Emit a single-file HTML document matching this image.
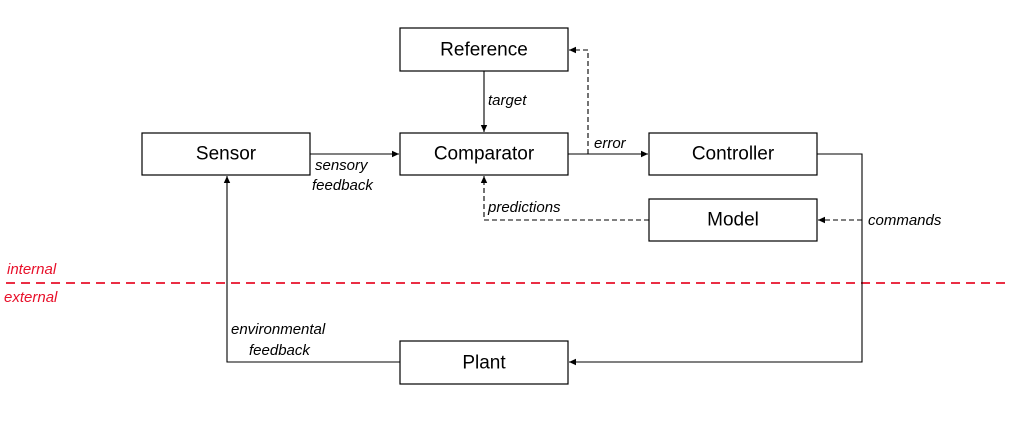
<!DOCTYPE html>
<html><head><style>
html,body{margin:0;padding:0;background:#fff;}
svg{display:block;}
.b{fill:#fff;stroke:#000;stroke-width:1.2;}
.t{font-family:"Liberation Sans",sans-serif;font-size:19px;text-anchor:middle;dominant-baseline:central;}
.l{font-family:"Liberation Sans",sans-serif;font-size:15px;font-style:italic;}
</style></head><body>
<svg width="1010" height="426" viewBox="0 0 1010 426">
<defs><marker id="a" markerWidth="8" markerHeight="8" refX="7" refY="4" orient="auto" markerUnits="userSpaceOnUse"><path d="M0,0.8 L7,4 L0,7.2 z" fill="#000"/></marker></defs>
<line x1="6" y1="283" x2="1005" y2="283" stroke="#e8102a" stroke-width="1.8" stroke-dasharray="9,6"/>
<text class="l" x="7" y="274" fill="#e8102a">internal</text>
<text class="l" x="4" y="302" fill="#e8102a">external</text>
<g stroke="#000" stroke-width="1.1" fill="none">
<line x1="484" y1="71" x2="484" y2="132" marker-end="url(#a)"/>
<line x1="310" y1="154" x2="399" y2="154" marker-end="url(#a)"/>
<line x1="568" y1="154" x2="648" y2="154" marker-end="url(#a)"/>
<polyline points="817,154 862,154 862,362 569,362" marker-end="url(#a)"/>
<polyline points="400,362 227,362 227,176" marker-end="url(#a)"/>
<polyline points="588,154 588,50 569,50" stroke-dasharray="5,3" marker-end="url(#a)"/>
<polyline points="649,220 484,220 484,176" stroke-dasharray="5,3" marker-end="url(#a)"/>
<line x1="862" y1="220" x2="818" y2="220" stroke-dasharray="5,3" marker-end="url(#a)"/>
</g>
<rect class="b" x="400" y="28" width="168" height="43"/><text class="t" x="484" y="50">Reference</text>
<rect class="b" x="400" y="133" width="168" height="42"/><text class="t" x="484" y="154">Comparator</text>
<rect class="b" x="142" y="133" width="168" height="42"/><text class="t" x="226" y="154">Sensor</text>
<rect class="b" x="649" y="133" width="168" height="42"/><text class="t" x="733" y="154">Controller</text>
<rect class="b" x="649" y="199" width="168" height="42"/><text class="t" x="733" y="220">Model</text>
<rect class="b" x="400" y="341" width="168" height="43"/><text class="t" x="484" y="363">Plant</text>
<text class="l" x="488" y="105">target</text>
<text class="l" x="594" y="148">error</text>
<text class="l" x="315" y="170">sensory</text>
<text class="l" x="312" y="190">feedback</text>
<text class="l" x="488" y="212">predictions</text>
<text class="l" x="868" y="225">commands</text>
<text class="l" x="231" y="334">environmental</text>
<text class="l" x="249" y="355">feedback</text>
</svg>
</body></html>
